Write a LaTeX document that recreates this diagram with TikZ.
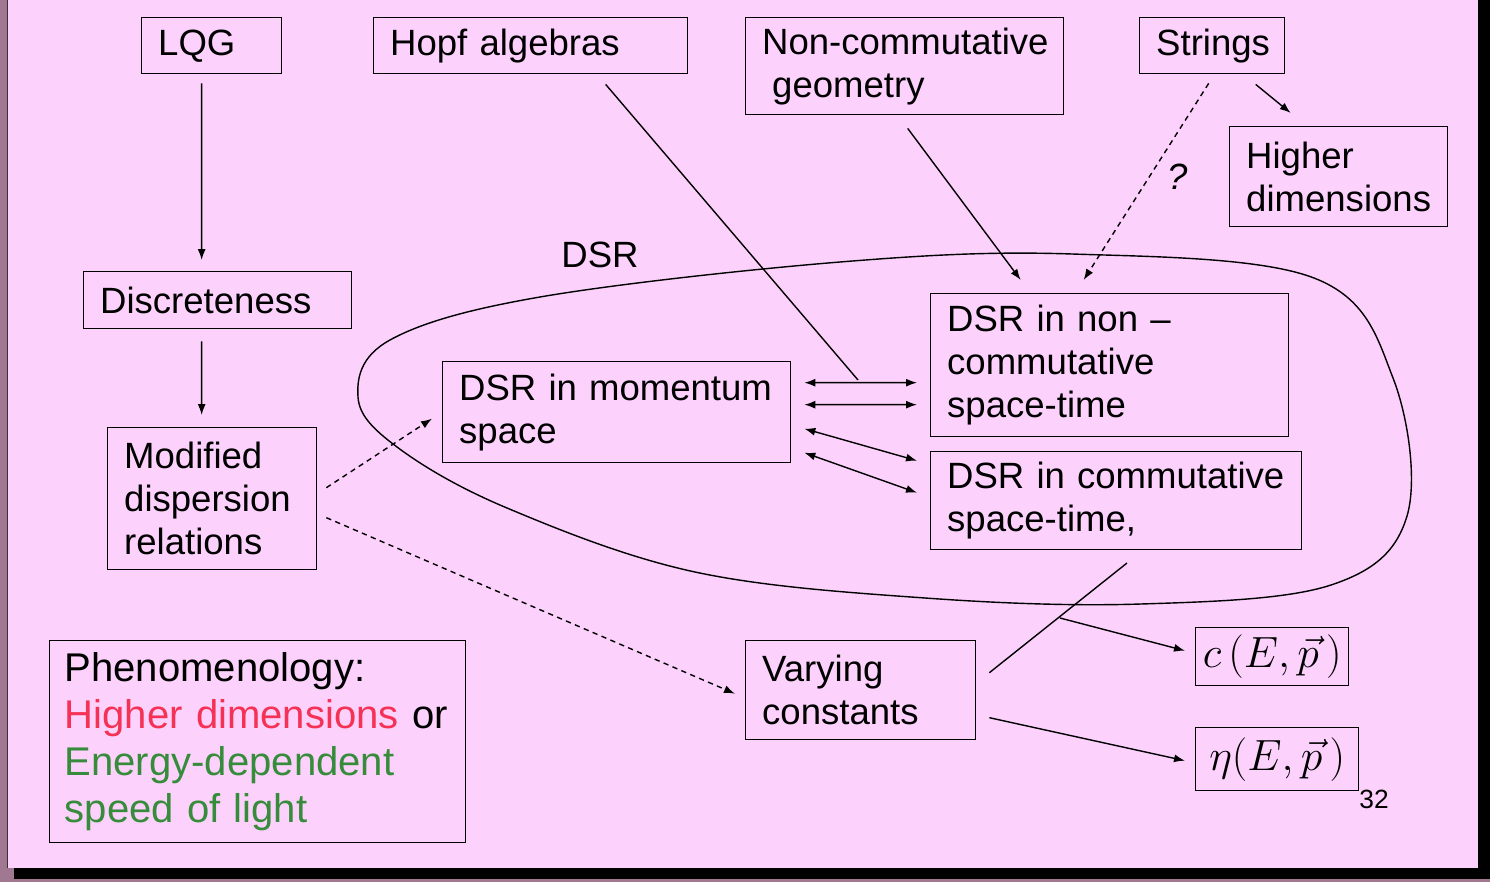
\documentclass[tikz,border=0pt]{standalone}
\usepackage{fontspec}
\setmainfont{Liberation Sans}
\usetikzlibrary{arrows.meta}
\definecolor{slide}{RGB}{252,210,252}
\definecolor{frame}{RGB}{160,120,145}
\definecolor{phenred}{RGB}{245,50,85}
\definecolor{phengreen}{RGB}{55,140,60}
\newcommand\labfont{\fontsize{20.8}{24.5}\selectfont}
\newcommand\phenfont{\fontsize{22.8}{26.8}\selectfont}
\tikzset{
  box/.style={draw, line width=0.8pt, anchor=north west, align=left, inner xsep=0.33cm, inner ysep=0pt, font=\labfont},
  mathbox/.style={draw, line width=0.8pt, anchor=north west, inner xsep=0.1cm, inner ysep=0pt, font=\fontsize{25}{28}\selectfont},
  link/.style={line width=0.8pt},
  dashlink/.style={line width=0.8pt, dash pattern=on 3pt off 2.5pt}
}
\begin{document}
\begin{tikzpicture}[x=0.02cm, y=-0.02cm, >={Latex[length=2.2mm,width=1.6mm]}]
\useasboundingbox (0,0) rectangle (1490,882);
\fill[frame] (0,0) rectangle (1490,882);
\fill[black] (14,0) rectangle (1490,879);
\fill[slide] (8,0) rectangle (1478,868);
\draw[black!80, line width=0.6pt] (7.5,0)--(7.5,868);

\node[box, minimum width=2.8cm, text width=2.14cm, minimum height=1.12cm] (lqg) at (141,17) {LQG};
\node[box, minimum width=6.28cm, text width=5.62cm, minimum height=1.12cm] (hopf) at (373,17) {Hopf algebras};
\node[box, minimum width=6.36cm, text width=5.70cm, minimum height=1.94cm] (ncg) at (745,17) {\mbox{Non-commutative}\\\hspace{0.2cm}geometry};
\node[box, minimum width=2.9cm, text width=2.24cm, minimum height=1.12cm] (strings) at (1139,17) {Strings};
\node[box, minimum width=4.36cm, text width=3.70cm, minimum height=2.0cm] (higher) at (1229,126) {Higher\\dimensions};
\node[box, minimum width=5.36cm, text width=4.70cm, minimum height=1.14cm] (disc) at (83,271) {Discreteness};
\node[box, minimum width=4.18cm, text width=3.52cm, minimum height=2.84cm] (mdr) at (107,427) {Modified\\dispersion\\relations};
\node[box, minimum width=6.96cm, text width=6.30cm, minimum height=2.02cm] (mom) at (442,361) {DSR in momentum\\space};
\node[box, minimum width=7.16cm, text width=6.50cm, minimum height=2.86cm] (dsrnc) at (930,293) {DSR in non --\\commutative\\\mbox{space-time}};
\node[box, minimum width=7.42cm, text width=6.76cm, minimum height=1.96cm] (dsrc) at (930,451) {DSR in commutative\\\mbox{space-time,}};
\node[box, minimum width=8.32cm, text width=7.72cm, inner xsep=0.3cm, minimum height=4.04cm, font=\phenfont] (phen) at (49,640) {Phenomenology:\\\mbox{\textcolor{phenred}{Higher dimensions} or}\\\textcolor{phengreen}{\mbox{Energy-dependent}}\\\textcolor{phengreen}{speed of light}};
\node[box, minimum width=4.6cm, text width=3.94cm, minimum height=1.98cm] (vary) at (745,640) {Varying\\constants};
\node[mathbox, minimum width=3.06cm, minimum height=1.16cm] (cbox) at (1195,627) {$c\,(E,\vec{p}\,)$};
\node[mathbox, minimum width=3.26cm, minimum height=1.26cm] (etabox) at (1195,727) {$\eta(E,\vec{p}\,)$};

\node[font=\labfont] (dsr) at (600,255) {DSR};
\node[font=\labfont\itshape] (quest) at (1178,177) {?};
\node[font=\fontsize{15}{17}\selectfont] (page) at (1374,799) {32};

\draw[link] plot[smooth cycle, tension=0.6] coordinates {(358,397) (397,447) (507,508) (695,572) (925,598) (1141,604) (1331,585) (1407,516) (1393,378) (1314,278) (1072,254) (840,262) (540,297) (390,340)};

\coordinate (hopfend) at (858,380);
\coordinate (varyend) at (1127,563);
\coordinate (cstart) at (1060,618);

\draw[link,->] ([xshift=-0.2cm,yshift=-0.18cm]lqg.south)--([xshift=-0.32cm,yshift=0.22cm]disc.north);
\draw[link,->] ([xshift=-0.32cm,yshift=-0.24cm]disc.south)--([xshift=-0.21cm,yshift=0.24cm]mdr.north);
\draw[link] ([xshift=1.5cm,yshift=-0.2cm]hopf.south)--(hopfend);
\draw[link,->] ([xshift=0.06cm,yshift=-0.26cm]ncg.south)--([xshift=-1.78cm,yshift=0.26cm]dsrnc.north);
\draw[dashlink,->] ([xshift=-0.07cm,yshift=-0.18cm]strings.south)--([xshift=-0.52cm,yshift=0.26cm]dsrnc.north);
\draw[link,->] ([xshift=0.87cm,yshift=-0.2cm]strings.south)--([xshift=-0.96cm,yshift=0.26cm]higher.north);
\draw[dashlink,->] ([xshift=0.18cm,yshift=0.22cm]mdr.east)--([xshift=-0.2cm,yshift=-0.13cm]mom.west);
\draw[dashlink,->] ([xshift=0.18cm,yshift=-0.38cm]mdr.east)--([xshift=-0.2cm,yshift=-0.07cm]vary.west);
\draw[link,<->] ([xshift=0.26cm,yshift=0.59cm]mom.east)--([xshift=-0.26cm,yshift=-0.35cm]dsrnc.west);
\draw[link,<->] ([xshift=0.26cm,yshift=0.15cm]mom.east)--([xshift=-0.26cm,yshift=-0.79cm]dsrnc.west);
\draw[link,<->] ([xshift=0.26cm,yshift=-0.33cm]mom.east)--([xshift=-0.26cm,yshift=0.8cm]dsrc.west);
\draw[link,<->] ([xshift=0.26cm,yshift=-0.81cm]mom.east)--([xshift=-0.26cm,yshift=0.16cm]dsrc.west);
\draw[link] ([xshift=0.26cm,yshift=0.35cm]vary.east)--(varyend);
\draw[link,->] (cstart)--([xshift=-0.2cm,yshift=0.12cm]cbox.west);
\draw[link,->] ([xshift=0.26cm,yshift=-0.55cm]vary.east)--([xshift=-0.2cm,yshift=-0.03cm]etabox.west);
\end{tikzpicture}
\end{document}
